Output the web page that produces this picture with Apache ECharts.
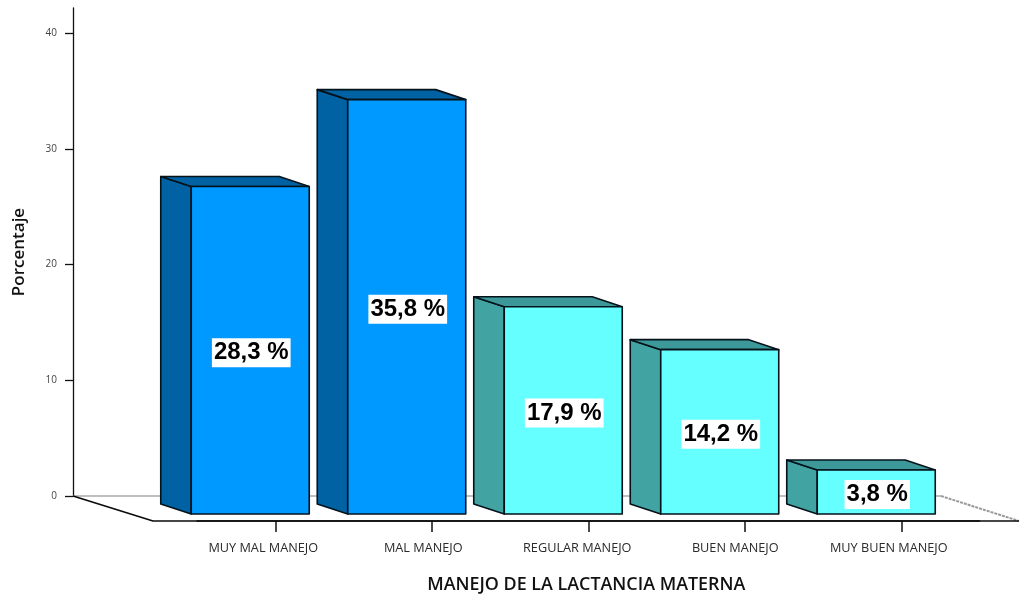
<!DOCTYPE html>
<html>
<head>
<meta charset="utf-8">
<style>html,body{margin:0;padding:0;background:#fff}#c{width:1019px;height:597px}</style>
<script src="https://cdn.jsdelivr.net/npm/echarts@6/dist/echarts.min.js"></script>
</head>
<body>
<div id="c"></div>
<script>
const categories = ['MUY MAL MANEJO', 'MAL MANEJO', 'REGULAR MANEJO', 'BUEN MANEJO', 'MUY BUEN MANEJO'];
const values = [28.3, 35.8, 17.9, 14.2, 3.8];
const tickValues = [0, 10, 20, 30, 40];
const frontColors = ['#0099ff', '#0099ff', '#66ffff', '#66ffff', '#66ffff'];
const sideColors = ['#0062a3', '#0062a3', '#42a3a3', '#42a3a3', '#42a3a3'];
const topColors = ['#0062a3', '#0062a3', '#3d9999', '#3d9999', '#3d9999'];
const labelPadRight = [24, 17, 22, 19, 25];
const yTitle = 'Porcentaje';
const xTitle = 'MANEJO DE LA LACTANCIA MATERNA';

const chart = echarts.init(document.getElementById('c'), null, {renderer: 'canvas'});

function renderBar(params, api) {
  const i = api.value(0), v = api.value(1);
  const top = api.coord([i, v]);
  const base = api.coord([i, 0]);
  const x = top[0];
  const yT = top[1] + 18, yB = base[1] + 18;
  const L = x - 84, R = x + 34, bL = x - 114.5, bR = x + 4, d = 10;
  const stroke = {stroke: '#04121a', lineWidth: 1.6, lineJoin: 'round'};
  const txt = v.toFixed(1).replace('.', ',') + ' %';
  return {
    type: 'group',
    children: [
      {type: 'polygon', shape: {points: [[bL, yT - d], [L, yT], [L, yB], [bL, yB - d]]},
        style: Object.assign({fill: sideColors[i]}, stroke)},
      {type: 'polygon', shape: {points: [[bL, yT - d], [bR, yT - d], [R, yT], [L, yT]]},
        style: Object.assign({fill: topColors[i]}, stroke)},
      {type: 'rect', shape: {x: L, y: yT, width: R - L, height: yB - yT},
        style: Object.assign({fill: frontColors[i]}, stroke)},
      {type: 'text', x: (L + R) / 2 + 1, y: (yT + yB) / 2 + 2.5,
        style: {text: txt, fill: '#000', font: 'bold 24px "Liberation Sans"',
          align: 'center', verticalAlign: 'middle',
          backgroundColor: '#fff', padding: [3, 2, 2, 2]}}
    ]
  };
}

function renderFloor(params, api) {
  const o = api.coord([0, 0]);
  const x = o[0], y = o[1];
  const ax = x - 202.25, fx = x - 122.25, ex = x + 743.75, bx = x + 665.75, fy = y + 25;
  return {
    type: 'group',
    children: [
      {type: 'polyline', shape: {points: [[ax, y], [bx, y]]}, style: {stroke: '#aaa', lineWidth: 1.5, fill: 'none'}},
      {type: 'polyline', shape: {points: [[bx, y], [ex, fy]]}, style: {stroke: '#999', lineWidth: 2, fill: 'none', lineDash: [3, 1]}},
      {type: 'polyline', shape: {points: [[ax, y], [fx, fy], [ex, fy]]}, style: {stroke: '#0a0a0a', lineWidth: 1.6, fill: 'none', lineJoin: 'round'}}
    ]
  };
}

const labelRich = {};
labelPadRight.forEach((p, i) => {
  labelRich['r' + i] = {fontFamily: 'Open Sans', fontSize: 12.7, color: '#2a2a2a', padding: [0, p, 0, 0]};
});

chart.setOption({
  animation: false,
  backgroundColor: '#fff',
  grid: {left: 197, width: 782.5, top: 8, height: 488, containLabel: false, outerBoundsMode: 'none'},
  xAxis: {
    type: 'category',
    data: categories,
    offset: 25,
    boundaryGap: true,
    axisLine: {show: true, onZero: false, lineStyle: {color: '#0a0a0a', width: 1.6}},
    axisTick: {show: true, alignWithLabel: true, length: 11, lineStyle: {color: '#111', width: 1.5}},
    axisLabel: {interval: 0, margin: 21, hideOverlap: false,
      formatter: (v, i) => '{r' + i + '|' + v + '}', rich: labelRich},
    name: xTitle,
    nameLocation: 'middle',
    nameGap: 55,
    nameTextStyle: {fontFamily: 'Open Sans', fontSize: 17.9, fontWeight: 600, color: '#111', padding: [0, 4, 0, 0]}
  },
  yAxis: {
    type: 'value',
    min: 0,
    max: 42.16,
    offset: 124,
    splitLine: {show: false},
    axisLine: {show: true, lineStyle: {color: '#111', width: 1.3}},
    axisTick: {show: true, length: 8, customValues: tickValues, lineStyle: {color: '#111', width: 1.3}},
    axisLabel: {customValues: tickValues, margin: 16, fontFamily: 'Open Sans', fontSize: 10, color: '#444'},
    name: yTitle,
    nameLocation: 'middle',
    nameGap: 45,
    nameTextStyle: {fontFamily: 'Open Sans', fontSize: 17, fontWeight: 600, color: '#111'}
  },
  series: [
    {type: 'custom', z: 1, silent: true, renderItem: renderFloor, encode: {x: 0, y: 1},
      data: [[0, 0]], clip: false},
    {type: 'custom', z: 2, silent: true, renderItem: renderBar, encode: {x: 0, y: 1},
      data: values.map((v, i) => [i, v]), clip: false}
  ]
});
</script>
</body>
</html>
